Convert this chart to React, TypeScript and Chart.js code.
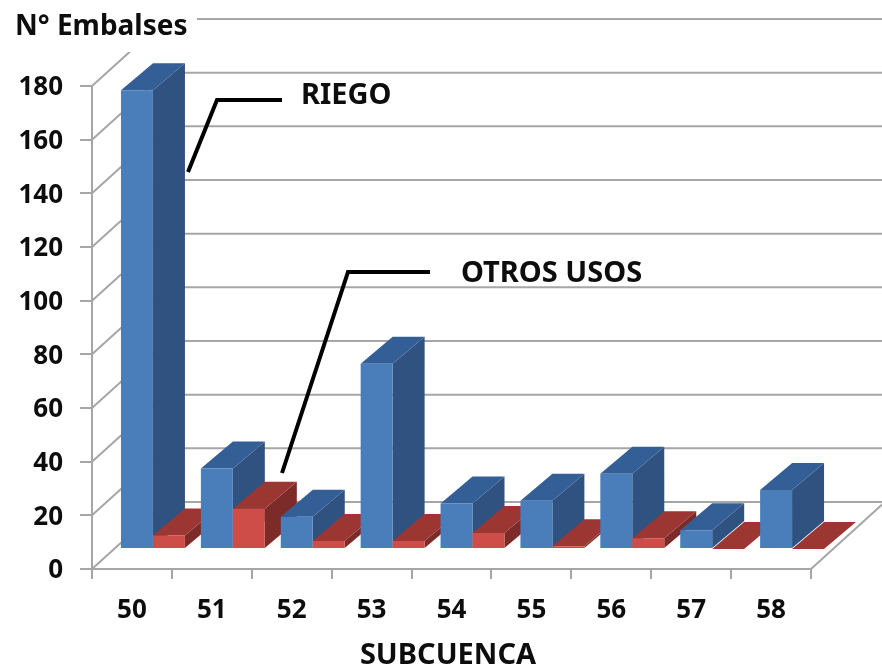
import React, { useEffect, useRef } from "react";
import { Chart, registerables } from "chart.js";

Chart.register(...registerables);

const categories = ["50", "51", "52", "53", "54", "55", "56", "57", "58"];
const riego = [171, 30, 12, 69, 17, 18, 28, 7, 22];
const otrosUsos = [5, 15, 3, 3, 6, 1, 4, 0, 0];
const yTitle = "N° Embalses";
const xTitle = "SUBCUENCA";
const riegoLabel = "RIEGO";
const otrosLabel = "OTROS USOS";

const FONT = '"Noto Sans", sans-serif';
const GRID = "#a6a6a6";
const WALL = { dx: 74, dy: -67 };
const BAR_OFFSET = { dx: 21, dy: -20 };
const BAR_DEPTH = { dx: 32, dy: -27 };
const FACES = [
  { front: "#4a7ebb", top: "#345f96", side: "#2f5280" },
  { front: "#cf4d48", top: "#9c3632", side: "#7d2b29" },
];

function poly(ctx: CanvasRenderingContext2D, pts: number[][], color: string) {
  ctx.beginPath();
  pts.forEach(([x, y], i) => (i ? ctx.lineTo(x, y) : ctx.moveTo(x, y)));
  ctx.closePath();
  ctx.fillStyle = color;
  ctx.fill();
}

const backdrop = {
  id: "backdrop",
  beforeDatasetsDraw(chart: any) {
    const ctx: CanvasRenderingContext2D = chart.ctx;
    const yS = chart.scales.y;
    const { left, right, bottom } = chart.chartArea;
    ctx.save();
    ctx.strokeStyle = GRID;
    ctx.lineWidth = 2;
    yS.ticks.forEach((t: any) => {
      const y = yS.getPixelForValue(t.value);
      ctx.beginPath();
      ctx.moveTo(left, y);
      ctx.lineTo(left + WALL.dx, y + WALL.dy);
      ctx.lineTo(right + WALL.dx, y + WALL.dy);
      ctx.stroke();
    });
    ctx.beginPath();
    ctx.moveTo(left, bottom);
    ctx.lineTo(right, bottom);
    ctx.lineTo(right + WALL.dx, bottom + WALL.dy);
    ctx.stroke();

    // bars are painted left to right, blue then red, so nearer ones overlap
    categories.forEach((_, i) => {
      [0, 1].forEach((d) => {
        const el = chart.getDatasetMeta(d).data[i];
        const f = FACES[d];
        const l = el.x - el.width / 2 + BAR_OFFSET.dx;
        const r = el.x + el.width / 2 + BAR_OFFSET.dx;
        const t = el.y + BAR_OFFSET.dy;
        const b = el.base + BAR_OFFSET.dy;
        poly(ctx, [[r, t], [r + BAR_DEPTH.dx, t + BAR_DEPTH.dy], [r + BAR_DEPTH.dx, b + BAR_DEPTH.dy], [r, b]], f.side);
        poly(ctx, [[l, t], [l + BAR_DEPTH.dx, t + BAR_DEPTH.dy], [r + BAR_DEPTH.dx, t + BAR_DEPTH.dy], [r, t]], f.top);
        ctx.save();
        ctx.translate(BAR_OFFSET.dx, BAR_OFFSET.dy);
        el.draw(ctx);
        ctx.restore();
      });
    });

    // title box hides the wall behind it
    ctx.fillStyle = "#ffffff";
    ctx.fillRect(0, 0, 197, 52);
    ctx.fillStyle = "#0d0d0d";
    ctx.textBaseline = "alphabetic";
    ctx.textAlign = "left";
    ctx.font = `bold 28px ${FONT}`;
    ctx.fillText(yTitle, 15, 35);
    ctx.font = `bold 29px ${FONT}`;
    ctx.fillText(riegoLabel, 301, 104);
    ctx.fillText(otrosLabel, 461, 282);
    ctx.textAlign = "center";
    ctx.fillText(xTitle, 448, 664);

    ctx.strokeStyle = "#000000";
    ctx.lineWidth = 4;
    ctx.lineJoin = "miter";
    ctx.beginPath();
    ctx.moveTo(188, 172);
    ctx.lineTo(217, 100);
    ctx.lineTo(282, 100);
    ctx.moveTo(282, 473);
    ctx.lineTo(348, 272);
    ctx.lineTo(430, 272);
    ctx.stroke();
    ctx.restore();
    return false;
  },
};

export default function App() {
  const ref = useRef<HTMLCanvasElement>(null);
  useEffect(() => {
    const chart = new Chart(ref.current!, {
      type: "bar",
      data: {
        labels: categories,
        datasets: [
          { label: riegoLabel, data: riego, backgroundColor: FACES[0].front },
          { label: otrosLabel, data: otrosUsos, backgroundColor: FACES[1].front },
        ],
      },
      options: {
        animation: false,
        responsive: false,
        events: [],
        layout: { padding: { top: 86, right: 71, left: 0, bottom: 0 } },
        plugins: { legend: { display: false }, tooltip: { enabled: false } },
        datasets: { bar: { categoryPercentage: 0.8, barPercentage: 1 } },
        scales: {
          x: {
            afterFit(s: any) { s.height = 98; },
            grid: { drawOnChartArea: false, color: GRID, lineWidth: 2, tickLength: 10, offset: true },
            border: { color: GRID, width: 2 },
            ticks: { color: "#0d0d0d", padding: 16, font: { family: FONT, weight: "bold", size: 26 } },
          },
          y: {
            min: 0,
            max: 180,
            afterFit(s: any) { s.width = 92; },
            grid: { drawOnChartArea: false, color: GRID, lineWidth: 2, tickLength: 12 },
            border: { color: GRID, width: 2 },
            ticks: { stepSize: 20, color: "#0d0d0d", padding: 17, labelOffset: 2, font: { family: FONT, weight: "bold", size: 26 } },
          },
        },
      },
      plugins: [backdrop],
    } as any);
    return () => chart.destroy();
  }, []);
  return (
    <canvas
      ref={ref}
      width={882}
      height={667}
      style={{ position: "absolute", left: 0, top: 0, display: "block", background: "#ffffff" }}
    />
  );
}
